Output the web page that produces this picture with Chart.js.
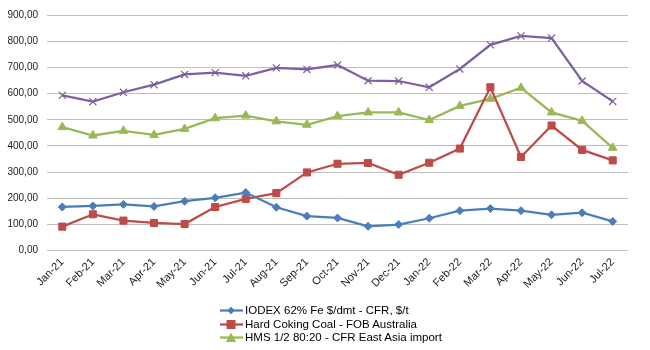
<!DOCTYPE html>
<html>
<head>
<meta charset="utf-8">
<script src="https://cdn.jsdelivr.net/npm/chart.js@4/dist/chart.umd.min.js"></script>
<style>
  html, body { margin:0; padding:0; background:#fff; }
  #wrap { position:relative; width:650px; height:350px; }
  #legend { position:absolute; left:220px; top:304px; font-family:"Liberation Sans", Arial, sans-serif; font-size:11.5px; color:#000; line-height:13.5px; }
  #legend div { display:flex; align-items:center; white-space:nowrap; }
  #legend svg { margin-right:2px; }
</style>
</head>
<body>
<div id="wrap">
  <canvas id="c" width="650" height="350"></canvas>
  <div id="legend"></div>
</div>
<script>
const categories = ["Jan-21","Feb-21","Mar-21","Apr-21","May-21","Jun-21","Jul-21","Aug-21","Sep-21","Oct-21","Nov-21","Dec-21","Jan-22","Feb-22","Mar-22","Apr-22","May-22","Jun-22","Jul-22"];
const iodex   = [167,171,177,169,189,202,222,166,132,125,93,100,124,153,161,153,137,145,112];
const coking  = [92,139,115,106,102,167,198,220,299,332,335,290,336,390,624,358,478,385,345];
const hms     = [472,440,458,442,465,506,516,494,481,514,528,528,499,553,580,622,528,496,393];
const fourth  = [593,569,605,634,673,680,668,698,692,709,649,648,624,694,786,820,812,648,570];
const seriesNames = ["IODEX 62% Fe $/dmt - CFR, $/t","Hard Coking Coal - FOB Australia","HMS 1/2 80:20 - CFR East Asia import",""];
const yTicks = [0,100,200,300,400,500,600,700,800,900];

const colors = ["#4a7ebb","#be4b48","#98b954","#7d60a0"];
const styles = ["rectRot","rect","triangle","crossRot"];
const radii = [4,5,5,5];
const data = [iodex, coking, hms, fourth];

new Chart(document.getElementById('c'), {
  type: 'line',
  data: {
    labels: categories,
    datasets: data.map((d,i) => ({
      label: seriesNames[i],
      data: d,
      borderColor: colors[i],
      backgroundColor: colors[i],
      borderWidth: 2.25,
      pointStyle: styles[i],
      pointRadius: radii[i],
      pointBorderWidth: i===3 ? 1.2 : 1,
      pointBorderColor: colors[i],
      pointBackgroundColor: colors[i],
      tension: 0,
      fill: false
    }))
  },
  options: {
    responsive: false,
    animation: false,
    layout: { padding: { left: 0, right: 22, top: 3, bottom: 54 } },
    plugins: { legend: { display: false }, tooltip: { enabled: false } },
    scales: {
      x: {
        offset: true,
        grid: { display: false, drawTicks: false },
        border: { display: false },
        ticks: {
          autoSkip: false, maxRotation: 45, minRotation: 45, padding: 5,
          color: "#222", font: { family: "Liberation Sans, Arial, sans-serif", size: 11 }
        }
      },
      y: {
        min: 0, max: 900,
        afterBuildTicks: (s) => { s.ticks = yTicks.map(v => ({ value: v })); },
        afterFit: (s) => { s.width = 47; },
        grid: { color: "#bfbfbf", lineWidth: 1, drawTicks: false },
        border: { display: false },
        ticks: {
          padding: 9, color: "#222",
          font: { family: "Liberation Sans, Arial, sans-serif", size: 10 },
          callback: (v) => Number(v).toFixed(2).replace('.', ',')
        }
      }
    }
  }
});

// HTML legend (first three series)
const leg = document.getElementById('legend');
function markerSvg(i) {
  const c = colors[i];
  let m = '';
  if (i === 0) m = `<polygon points="11,2.5 14.5,6.5 11,10.5 7.5,6.5" fill="${c}"/>`;
  if (i === 1) m = `<rect x="6.5" y="2" width="9" height="9" fill="${c}"/>`;
  if (i === 2) m = `<polygon points="11,1.5 16,11 6,11" fill="${c}"/>`;
  return `<svg width="23" height="13" viewBox="0 0 23 13"><line x1="0" y1="6.5" x2="23" y2="6.5" stroke="${c}" stroke-width="2.25"/>${m}</svg>`;
}
for (let i = 0; i < 3; i++) {
  const row = document.createElement('div');
  row.innerHTML = markerSvg(i) + '<span>' + seriesNames[i] + '</span>';
  leg.appendChild(row);
}
</script>
</body>
</html>
